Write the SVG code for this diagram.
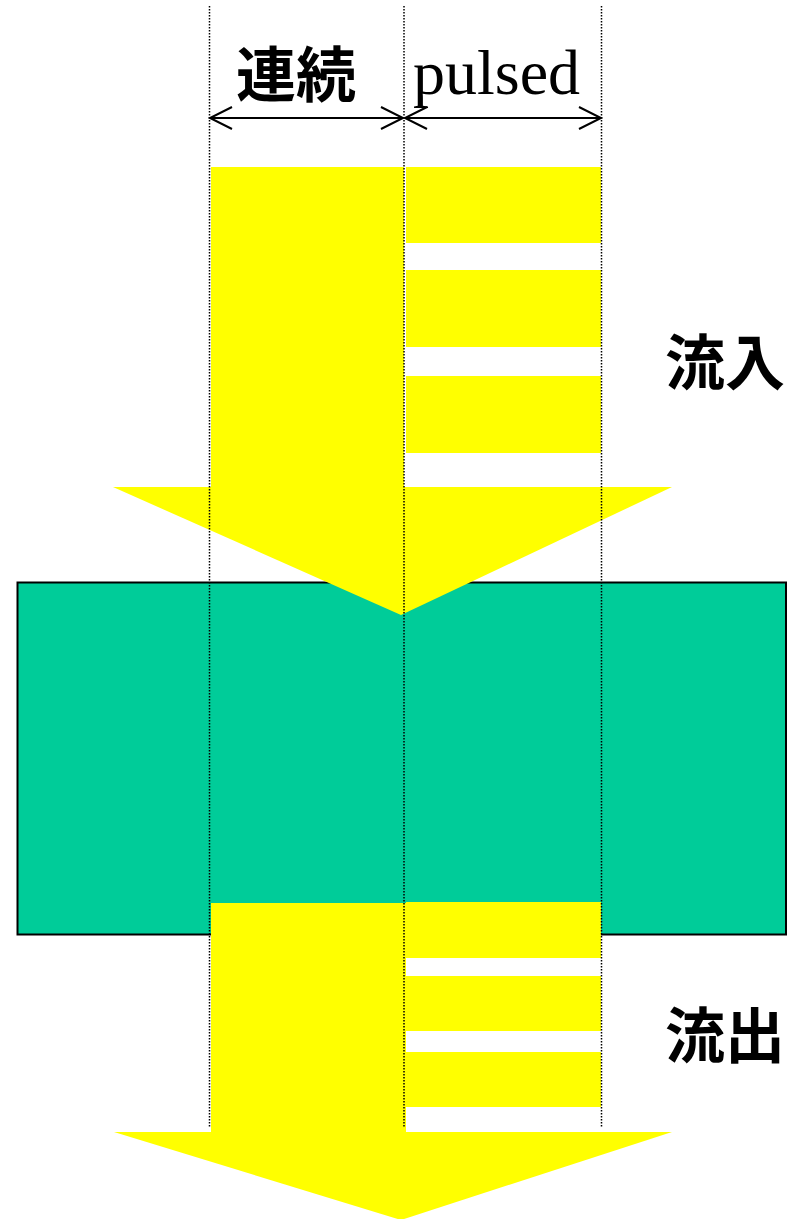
<svg xmlns="http://www.w3.org/2000/svg" width="800" height="1219" viewBox="0 0 800 1219">
<defs>
<style>
.y{fill:#FFFF00;stroke:none}
.dot{stroke:#000;stroke-width:1.5;stroke-dasharray:1.5,1.5;fill:none}
.dim{stroke:#000;stroke-width:2;fill:none}
.cjk{font-family:"Noto Sans CJK JP","Noto Sans CJK SC",sans-serif;font-weight:bold;fill:#000}
.ser{font-family:"Liberation Serif",serif;fill:#000}
</style>
</defs>
<rect width="800" height="1219" fill="#fff"/>
<g id="chamber">
<rect x="17.5" y="582.5" width="768.5" height="352" fill="#00CC99" stroke="#000" stroke-width="2"/>
</g>
<g id="inflow">
<rect class="y" x="211" y="167" width="193" height="330"/>
<rect class="y" x="406" y="167" width="195" height="76"/>
<rect class="y" x="406" y="270" width="195" height="77"/>
<rect class="y" x="406" y="376" width="195" height="77"/>
<polygon class="y" points="113,487 672,487 401,615"/>
</g>
<g id="outflow">
<rect class="y" x="211" y="903" width="195" height="235"/>
<rect class="y" x="406" y="902" width="195" height="56"/>
<rect class="y" x="406" y="976" width="195" height="55"/>
<rect class="y" x="406" y="1052" width="195" height="55"/>
<polygon class="y" points="114,1132 672,1132 401,1220"/>
</g>
<g id="connectors">
<line class="dot" x1="209.5" y1="6" x2="209.5" y2="1128"/>
<line class="dot" x1="404" y1="6" x2="404" y2="1128"/>
<line class="dot" x1="601.5" y1="6" x2="601.5" y2="1128"/>
<path class="dim" d="M210,118 H403 M232,107 L210,118 L232,129 M381,107 L403,118 L381,129"/>
<path class="dim" d="M405,118 H601 M427,107 L405,118 L427,129 M579,107 L601,118 L579,129"/>
</g>
<g id="label-continuous"><text class="cjk" x="296" y="97" font-size="60" text-anchor="middle">連続</text></g>
<g id="label-pulsed"><text class="ser" x="413" y="94" font-size="64">pulsed</text></g>
<g id="label-in"><text class="cjk" x="725" y="385" font-size="60" text-anchor="middle">流入</text></g>
<g id="label-out"><text class="cjk" x="725" y="1058" font-size="60" text-anchor="middle">流出</text></g>
</svg>
